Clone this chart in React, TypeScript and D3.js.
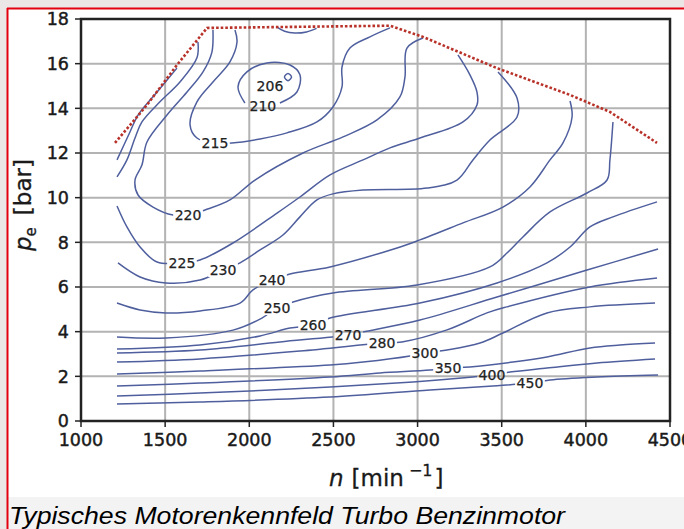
import React from "react";
import * as d3 from "d3";

const W = 684;
const H = 529;
const MARGIN = { left: 81, right: 14, top: 19, bottom: 108 };

// axis ticks
const rpmTicks = [1000, 1500, 2000, 2500, 3000, 3500, 4000, 4500];
const peTicks = [0, 2, 4, 6, 8, 10, 12, 14, 16, 18];

// full load line (n, pe)
const fullLoad = [
  [1202, 12.45], [1392, 14.15], [1570, 15.94], [1749, 17.6], [2836, 17.7],
  [3032, 17.2], [3472, 15.8], [3906, 14.6], [4143, 13.84], [4423, 12.45],
];

// iso lines of specific fuel consumption (n, pe)
const iso206 = [[2209, 15.4], [2230, 15.56], [2251, 15.4], [2230, 15.24]];
const iso210 = [
  [1974, 14.24], [1933, 14.96], [1986, 15.63], [2105, 16.03], [2242, 15.94],
  [2301, 15.5], [2283, 14.73], [2182, 14.24],
];
const iso210Top = [[2160, 17.66], [2210, 17.45], [2270, 17.37], [2340, 17.42], [2400, 17.58]];
const iso215 = [
  [1915, 17.51], [1927, 16.97], [1885, 16.08], [1784, 15.18], [1689, 14.29],
  [1648, 13.26], [1689, 12.67], [1796, 12.45], [1897, 12.45], [2064, 12.63],
  [2224, 12.9], [2402, 13.39], [2497, 14.06], [2551, 14.96], [2551, 15.85],
  [2598, 16.7], [2717, 17.2], [2836, 17.6],
];
const iso220 = [
  [3032, 17.15], [2937, 16.7], [2925, 15.4], [2895, 14.51], [2759, 13.48],
  [2557, 12.72], [2319, 12.0], [2034, 10.79], [1885, 9.9], [1737, 9.45],
  [1636, 9.22], [1547, 9.22], [1428, 9.58], [1339, 10.12], [1321, 10.79],
  [1362, 11.46], [1392, 12.49], [1511, 13.7], [1630, 14.73], [1725, 15.63],
  [1778, 16.52], [1784, 17.51],
];
const iso225Upper = [
  [1695, 16.97], [1689, 16.26], [1588, 15.18], [1469, 14.29], [1362, 13.39],
  [1321, 12.67], [1273, 11.69], [1214, 10.93],
];
const iso230Upper = [[1570, 15.8], [1452, 14.73], [1339, 13.7], [1291, 12.94], [1214, 11.69]];
const iso225 = [
  [1214, 9.63], [1273, 8.69], [1351, 7.79], [1452, 7.12], [1600, 7.08],
  [1707, 7.21], [1903, 7.97], [2165, 9.31], [2301, 10.03], [2480, 11.02],
  [2676, 11.69], [2836, 12.23], [3014, 12.67], [3270, 13.39], [3353, 14.15],
  [3353, 14.73], [3311, 15.5], [3240, 16.39],
];
const iso230 = [
  [1220, 7.08], [1351, 6.45], [1505, 6.18], [1707, 6.31], [1844, 6.76],
  [1945, 7.08], [2064, 7.66], [2200, 8.33], [2301, 9.14], [2402, 9.9],
  [2497, 10.17], [2676, 10.34], [3056, 10.43], [3234, 10.79], [3329, 11.69],
  [3430, 12.58], [3591, 13.61], [3591, 14.46], [3478, 15.63],
];
const iso240 = [
  [1214, 5.28], [1351, 4.97], [1505, 4.84], [1707, 4.93], [1945, 5.28],
  [2022, 5.87], [2135, 6.31], [2242, 6.58], [2480, 6.9], [2878, 7.75],
  [3014, 8.11], [3270, 8.87], [3507, 9.58], [3668, 10.48], [3787, 11.69],
  [3864, 12.45], [3918, 13.61], [3906, 14.33],
];
const iso250 = [
  [1214, 3.76], [1505, 3.72], [1903, 4.07], [2075, 4.61], [2165, 5.06],
  [2260, 5.33], [2497, 5.73], [2997, 6.09], [3430, 6.9], [3531, 7.52],
  [3626, 8.24], [3787, 9.36], [4007, 10.21], [4126, 10.79], [4143, 11.69],
  [4161, 13.39],
];
const iso260 = [
  [1214, 3.22], [1707, 3.4], [2064, 3.81], [2242, 4.16], [2379, 4.3],
  [2480, 4.61], [3014, 5.28], [3472, 6.18], [3769, 7.08], [3906, 7.79],
  [4024, 8.69], [4161, 9.14], [4423, 9.81],
];
const iso270 = [
  [1214, 3.05], [1707, 3.18], [2183, 3.54], [2587, 3.85], [2676, 3.99],
  [3014, 4.52], [3472, 5.55], [4007, 6.76], [4429, 7.7],
];
const iso280 = [
  [1214, 2.64], [1707, 2.78], [2301, 3.13], [2789, 3.49], [2907, 3.54],
  [3175, 4.08], [3412, 4.84], [3531, 5.11], [4024, 6.0], [4423, 6.4],
];
const iso300 = [
  [1214, 2.1], [1707, 2.24], [2480, 2.51], [2676, 2.64], [2955, 2.91],
  [3044, 3.05], [3175, 3.18], [3371, 3.49], [3507, 3.94], [3769, 4.84],
  [4024, 5.11], [4411, 5.28],
];
const iso350 = [
  [1214, 1.57], [1707, 1.7], [2480, 1.97], [2777, 2.15], [3074, 2.28],
  [3181, 2.37], [3311, 2.42], [3567, 2.64], [3769, 2.87], [4024, 3.27],
  [4203, 3.4], [4411, 3.49],
];
const iso400 = [
  [1214, 1.12], [1707, 1.25], [2480, 1.52], [2973, 1.75], [3329, 1.97],
  [3442, 2.06], [3549, 2.19], [3769, 2.37], [4066, 2.6], [4411, 2.78],
];
const iso450 = [
  [1214, 0.76], [1707, 0.85], [2480, 1.07], [3074, 1.39], [3448, 1.57],
  [3668, 1.7], [3787, 1.84], [4066, 1.97], [4429, 2.06],
];

// inline contour labels
const labelText = ["206", "210", "215", "220", "225", "230", "240", "250", "260", "270", "280", "300", "350", "400", "450"];
const labelRpm = [2123, 2081, 1796, 1636, 1600, 1844, 2135, 2165, 2379, 2587, 2789, 3044, 3181, 3442, 3668];
const labelPe = [15.0, 14.1, 12.45, 9.22, 7.08, 6.76, 6.31, 5.06, 4.3, 3.85, 3.49, 3.05, 2.37, 2.06, 1.7];

const openLines = [
  iso210, iso210Top, iso215, iso220, iso225Upper, iso230Upper, iso225, iso230,
  iso240, iso250, iso260, iso270, iso280, iso300, iso350, iso400, iso450,
];

const LINE = "#4f5f9e";
const FONT = "'DejaVu Sans', sans-serif";
const INK = "#1a1a1a";

export default function App() {
  const x = d3.scaleLinear().domain([1000, 4500]).range([MARGIN.left, W - MARGIN.right]);
  const y = d3.scaleLinear().domain([0, 18]).range([H - MARGIN.bottom, MARGIN.top]);

  const iso = d3
    .line<number[]>()
    .x((d) => x(d[0]))
    .y((d) => y(d[1]))
    .curve(d3.curveCatmullRom.alpha(0.5));
  const ring = d3
    .line<number[]>()
    .x((d) => x(d[0]))
    .y((d) => y(d[1]))
    .curve(d3.curveCatmullRomClosed.alpha(0.5));
  const straight = d3
    .line<number[]>()
    .x((d) => x(d[0]))
    .y((d) => y(d[1]));

  const [x0, x1] = x.range();
  const [y0, y1] = y.range();

  return (
    <svg width={W} height={H} style={{ position: "absolute", left: 0, top: 0, display: "block" }}>
      <rect width={W} height={H} fill="#ebe7e6" />
      <rect x={8} y={9} width={W - 8} height={H - 9} fill="#ffffff" />
      <rect x={8} y={497} width={W - 8} height={H - 497} fill="#f3f3f3" />
      <line x1={7.5} x2={7.5} y1={8} y2={H} stroke="#e3000f" strokeWidth={2} />
      <line x1={7} x2={W} y1={8.5} y2={8.5} stroke="#e3000f" strokeWidth={2} />

      <defs>
        <mask id="labelGaps" maskUnits="userSpaceOnUse" x={0} y={0} width={W} height={H}>
          <rect width={W} height={H} fill="white" />
          {labelText.map((t, i) => {
            const w = t.length * 8.9 + 3;
            return (
              <rect
                key={i}
                x={x(labelRpm[i]) - w / 2}
                y={y(labelPe[i]) - 7}
                width={w}
                height={14}
                fill="black"
              />
            );
          })}
        </mask>
      </defs>

      {/* grid */}
      {rpmTicks.slice(1, -1).map((t) => (
        <line key={"gx" + t} x1={x(t)} x2={x(t)} y1={y1} y2={y0} stroke="#b3b3b3" strokeWidth={2} />
      ))}
      {peTicks.slice(1, -1).map((t) => (
        <line key={"gy" + t} x1={x0} x2={x1} y1={y(t)} y2={y(t)} stroke="#b3b3b3" strokeWidth={2} />
      ))}

      {/* iso lines */}
      <g mask="url(#labelGaps)" fill="none" stroke={LINE} strokeWidth={1.5}>
        {openLines.map((pts, i) => (
          <path key={i} d={iso(pts) || ""} />
        ))}
        <path d={ring(iso206) || ""} />
      </g>

      {/* full load */}
      <path
        d={straight(fullLoad) || ""}
        fill="none"
        stroke="#b8322a"
        strokeWidth={2.6}
        strokeDasharray="2.6 2"
      />

      {/* frame */}
      <rect x={x0} y={y1} width={x1 - x0} height={y0 - y1} fill="none" stroke="#222" strokeWidth={2.5} />

      {/* ticks */}
      {rpmTicks.map((t) => (
        <g key={"tx" + t}>
          <line x1={x(t)} x2={x(t)} y1={y0} y2={y0 + 6} stroke="#222" strokeWidth={1.5} />
          <text
            x={x(t)}
            y={446}
            textAnchor="middle"
            fontFamily={FONT}
            fontSize={17.5}
            fill={INK}
            stroke={INK}
            strokeWidth={0.45}
          >
            {t}
          </text>
        </g>
      ))}
      {peTicks.map((t) => (
        <g key={"ty" + t}>
          <line x1={x0 - 6} x2={x0} y1={y(t)} y2={y(t)} stroke="#222" strokeWidth={1.5} />
          <text
            x={69}
            y={y(t)}
            dy="0.36em"
            textAnchor="end"
            fontFamily={FONT}
            fontSize={17.5}
            fill={INK}
            stroke={INK}
            strokeWidth={0.45}
          >
            {t}
          </text>
        </g>
      ))}

      {/* contour labels */}
      {labelText.map((t, i) => (
        <text
          key={"l" + i}
          x={x(labelRpm[i])}
          y={y(labelPe[i])}
          dy="0.36em"
          textAnchor="middle"
          fontFamily={FONT}
          fontSize={14}
          fill="#222"
          stroke="#222"
          strokeWidth={0.25}
        >
          {t}
        </text>
      ))}

      {/* axis titles */}
      <text x={329} y={486} fontFamily={FONT} fontSize={23} fill={INK} stroke={INK} strokeWidth={0.3}>
        <tspan fontStyle="italic">n</tspan>
        <tspan dx={8}>[min</tspan>
        <tspan dx={5} dy={-10} fontSize={16}>−1</tspan>
        <tspan dx={2} dy={10}>]</tspan>
      </text>
      <text
        transform="translate(31,251) rotate(-90)"
        fontFamily={FONT}
        fontSize={23}
        fill={INK}
        stroke={INK}
        strokeWidth={0.3}
      >
        <tspan fontStyle="italic">p</tspan>
        <tspan dy={5} fontSize={15}>e</tspan>
        <tspan dx={12} dy={-5}>[bar]</tspan>
      </text>

      {/* caption */}
      <text
        x={9}
        y={524}
        fontFamily="'Liberation Sans', Arial, sans-serif"
        fontStyle="italic"
        fontSize={24}
        fill="#000"
        textLength={556}
        lengthAdjust="spacingAndGlyphs"
      >
        Typisches Motorenkennfeld Turbo Benzinmotor
      </text>
    </svg>
  );
}
